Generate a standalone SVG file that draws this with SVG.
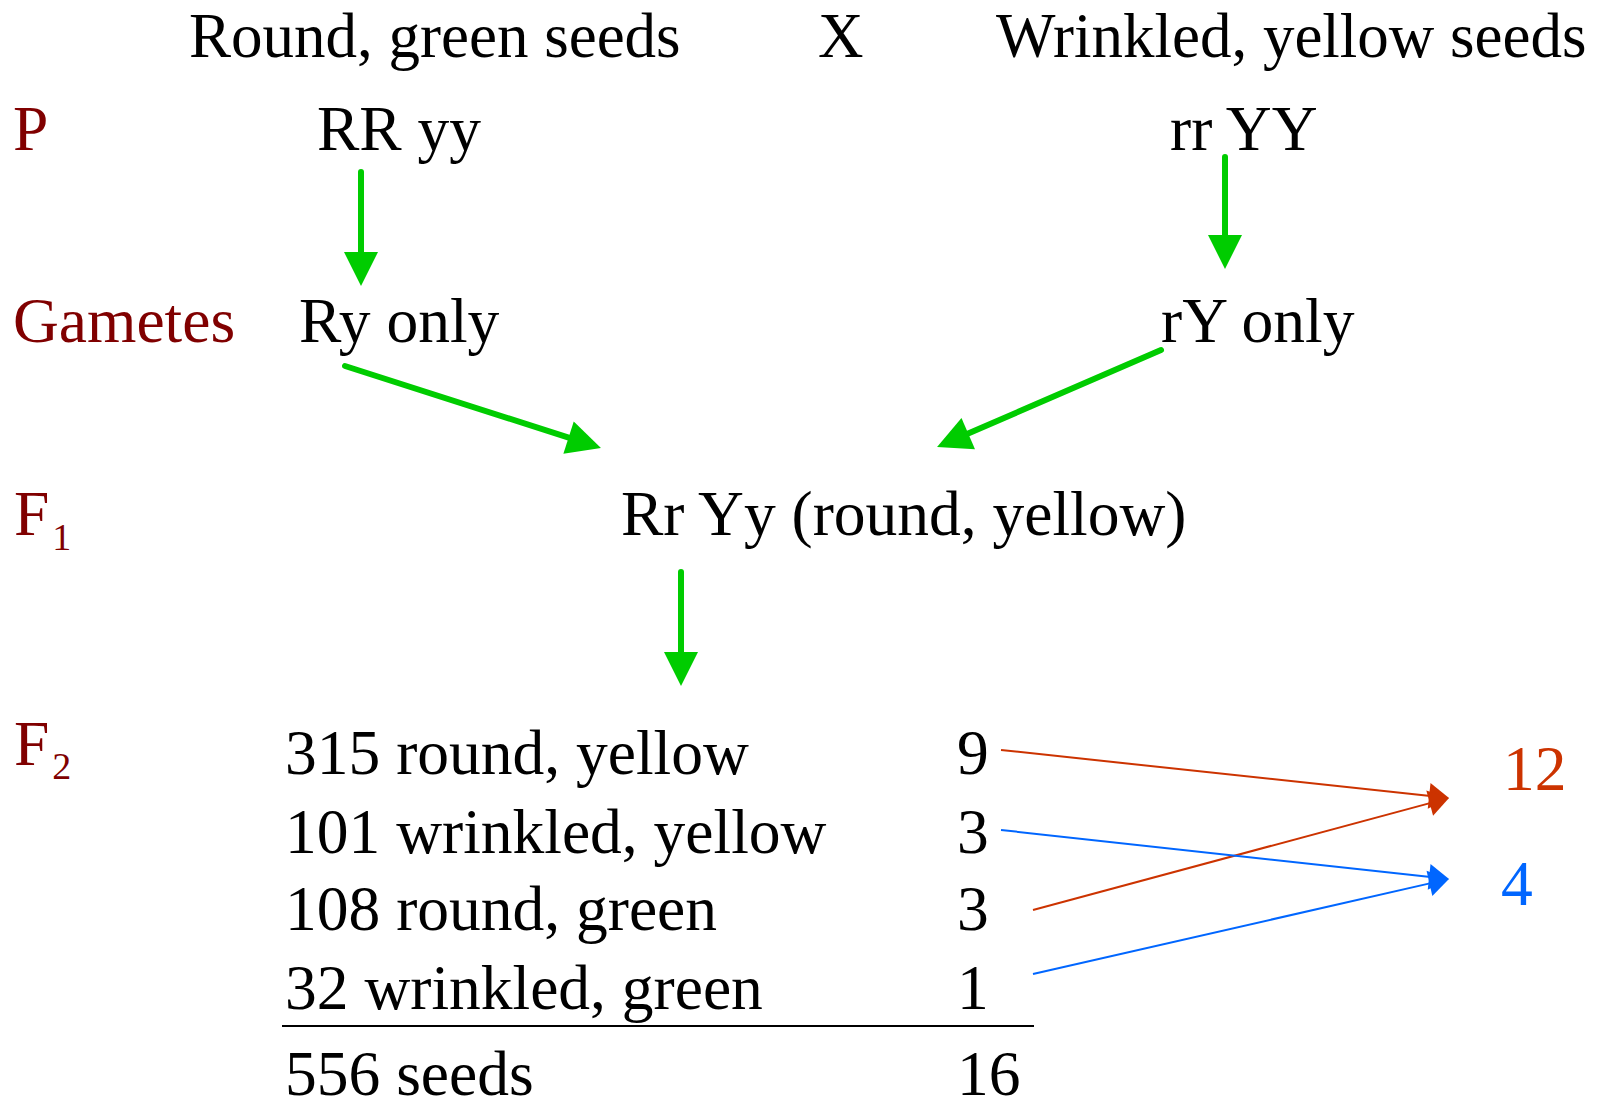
<svg xmlns="http://www.w3.org/2000/svg" width="1603" height="1109" viewBox="0 0 1603 1109">
<style>
text{font-family:"Liberation Serif","Times New Roman",serif;font-size:63.5px;fill:#000}
.t{font-size:63px}
.lab{fill:#800000}
.sub{font-size:38px}
.g{stroke:#00cc00;stroke-width:6;stroke-linecap:round;fill:none}
.r{stroke:#cc3300;stroke-width:2;fill:none}
.b{stroke:#0066ff;stroke-width:2;fill:none}
</style>
<defs>
<marker id="ga" markerUnits="userSpaceOnUse" orient="auto" overflow="visible" markerWidth="1" markerHeight="1" refX="0" refY="0"><path d="M20,0 L-14,-17 L-14,17 z" fill="#00cc00"/></marker>
<marker id="ra" markerUnits="userSpaceOnUse" orient="auto" overflow="visible" markerWidth="1" markerHeight="1" refX="0" refY="0"><path d="M14,0 L-6,-13 L-6,13 z" fill="#cc3300"/></marker>
<marker id="ba" markerUnits="userSpaceOnUse" orient="auto" overflow="visible" markerWidth="1" markerHeight="1" refX="0" refY="0"><path d="M14,0 L-6,-13 L-6,13 z" fill="#0066ff"/></marker>
</defs>
<g id="title-left"><text class="t" x="189" y="57">Round, green seeds</text></g>
<g id="cross"><text class="t" x="818" y="57">X</text></g>
<g id="title-right"><text class="t" x="996" y="57">Wrinkled, yellow seeds</text></g>
<g id="label-P"><text class="lab" x="13" y="150">P</text></g>
<g id="label-gametes"><text class="lab" x="13" y="342">Gametes</text></g>
<g id="label-F1"><text class="lab" x="14" y="535">F<tspan class="sub" dx="3" dy="15">1</tspan></text></g>
<g id="label-F2"><text class="lab" x="14" y="765">F<tspan class="sub" dx="3" dy="14">2</tspan></text></g>
<g id="p-left"><text x="317" y="150">RR yy</text></g>
<g id="p-right"><text x="1170" y="150">rr YY</text></g>
<g id="gam-left"><text x="299" y="342">Ry only</text></g>
<g id="gam-right"><text x="1161" y="342">rY only</text></g>
<g id="f1"><text x="621" y="535">Rr Yy (round, yellow)</text></g>
<g id="f2-table">
<text x="285" y="774">315 round, yellow</text>
<text x="285" y="853">101 wrinkled, yellow</text>
<text x="285" y="930">108 round, green</text>
<text x="285" y="1009">32 wrinkled, green</text>
<line x1="282" y1="1026" x2="1034" y2="1026" stroke="#000" stroke-width="2"/>
<text x="285" y="1095">556 seeds</text>
<text x="957" y="774">9</text>
<text x="957" y="853">3</text>
<text x="957" y="930">3</text>
<text x="957" y="1009">1</text>
<text x="957" y="1095">16</text>
</g>
<g id="ratio-12"><text x="1503" y="790" style="fill:#cc3300">12</text></g>
<g id="ratio-4"><text x="1501" y="905" style="fill:#0066ff">4</text></g>
<g id="connectors">
<line class="g" x1="361" y1="172" x2="361" y2="266" marker-end="url(#ga)"/>
<line class="g" x1="1225" y1="157" x2="1225" y2="249" marker-end="url(#ga)"/>
<line class="g" x1="345" y1="366" x2="581.9" y2="441.9" marker-end="url(#ga)"/>
<line class="g" x1="1161" y1="350" x2="955.4" y2="439.1" marker-end="url(#ga)"/>
<line class="g" x1="681" y1="572" x2="681" y2="666" marker-end="url(#ga)"/>
<line class="r" x1="1001" y1="750" x2="1435.1" y2="796.5" marker-end="url(#ra)"/>
<line class="r" x1="1033" y1="910" x2="1435.5" y2="801.6" marker-end="url(#ra)"/>
<line class="b" x1="1001" y1="830" x2="1435.1" y2="877.5" marker-end="url(#ba)"/>
<line class="b" x1="1033" y1="974" x2="1435.3" y2="882.1" marker-end="url(#ba)"/>
</g>
</svg>
